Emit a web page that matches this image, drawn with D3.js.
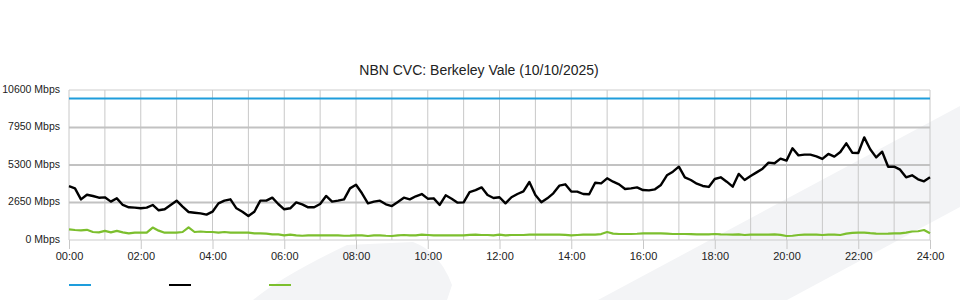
<!DOCTYPE html>
<html>
<head>
<meta charset="utf-8">
<script src="https://cdn.jsdelivr.net/npm/d3@7"></script>
<style>
  body { margin: 0; background: #fff; }
  text { font-family: "Liberation Sans", Arial, sans-serif; fill: #222; }
</style>
</head>
<body>
<div id="chart"></div>
<script>
// Chart data (one sample every 10 minutes from 00:00 to 24:00)
const title = "NBN CVC: Berkeley Vale (10/10/2025)";
const stepMinutes = 10;
const capacityMbps = 10000;

const trafficMbps = [
  3800, 3650, 2870, 3200, 3110, 2990, 3015, 2710, 2945, 2475, 2310, 2285, 2240, 2285, 2475, 2100,
  2170, 2475, 2780, 2355, 1980, 1930, 1885, 1790, 2000, 2590, 2780, 2875, 2240, 2000, 1700, 2000,
  2780, 2780, 2990, 2545, 2170, 2240, 2660, 2520, 2310, 2310, 2545, 3110, 2710, 2780, 2875, 3650,
  3900, 3300, 2590, 2710, 2780, 2520, 2400, 2690, 2990, 2870, 3090, 3250, 2920, 2945, 2475, 3160,
  2920, 2640, 2660, 3390, 3530, 3720, 3180, 2970, 3020, 2590, 3020, 3250, 3440, 4100, 3180, 2660,
  2945, 3300, 3840, 3935, 3420, 3420, 3250, 3230, 4050, 4005, 4360, 4120, 3935, 3600, 3650, 3720,
  3530, 3510, 3580, 3890, 4570, 4830, 5180, 4430, 4240, 3980, 3820, 3750, 4310, 4430, 4120, 3770,
  4670, 4240, 4520, 4780, 5040, 5470, 5420, 5750, 5610, 6480, 5980, 6030, 6030, 5910, 5730, 6080,
  5890, 6220, 6830, 6170, 6150, 7250, 6410, 5840, 6240, 5180, 5180, 4970, 4430, 4570, 4290, 4150,
  4430
];

const otherMbps = [
  754, 707, 680, 720, 565, 540, 640, 540, 640, 540, 471, 518, 518, 518, 880, 660,
  518, 518, 518, 565, 895, 565, 600, 565, 565, 518, 565, 518, 518, 518, 518, 471,
  471, 450, 400, 400, 330, 380, 330, 300, 330, 330, 330, 330, 330, 330, 300, 310,
  330, 330, 283, 330, 330, 300, 283, 330, 353, 330, 330, 380, 353, 330, 330, 330,
  330, 330, 330, 360, 377, 353, 353, 330, 377, 330, 353, 353, 353, 377, 377, 377,
  377, 377, 377, 360, 330, 353, 377, 377, 377, 420, 565, 450, 424, 424, 424, 440,
  471, 471, 471, 471, 450, 424, 424, 424, 410, 400, 400, 400, 424, 400, 390, 377,
  400, 353, 377, 377, 377, 377, 400, 360, 283, 300, 353, 377, 377, 377, 353, 377,
  377, 353, 450, 500, 520, 520, 480, 450, 440, 450, 471, 471, 520, 600, 620, 707,
  480
];

const yTicks = [0, 2650, 5300, 7950, 10600];
const xTickHours = [0, 2, 4, 6, 8, 10, 12, 14, 16, 18, 20, 22, 24];
const seriesColors = ["#1e9ddc", "#000000", "#7cbf2e"];

// Dimensions
const width = 960;
const height = 300;
const margin = { top: 90, right: 30, bottom: 60, left: 69 };

const svg = d3
  .select("#chart")
  .append("svg")
  .attr("width", width)
  .attr("height", height);

// Light background watermark shapes
svg.append("path")
  .attr("d", "M253,300 Q282,276 347,245 L413,242 Q440,252 452,285 L447,300 Z")
  .attr("fill", "#f3f4f6");
svg.append("path")
  .attr("d", "M598,300 L960,106 L960,207 L787,300 Z")
  .attr("fill", "#f3f4f6");

// Scales
const xScale = d3.scaleLinear()
  .domain([0, 24 * 60])
  .range([margin.left, width - margin.right]);

const yScale = d3.scaleLinear()
  .domain([0, 10600])
  .range([height - margin.bottom, margin.top]);

// Vertical grid lines, one per hour
const grid = svg.append("g").attr("class", "grid");
grid.selectAll("line.v")
  .data(d3.range(0, 25))
  .join("line")
  .attr("class", "v")
  .attr("x1", (h) => xScale(h * 60))
  .attr("x2", (h) => xScale(h * 60))
  .attr("y1", yScale(10600))
  .attr("y2", yScale(0))
  .attr("stroke", "#c8c8c8")
  .attr("stroke-width", 1);

// Horizontal grid lines
grid.selectAll("line.h")
  .data(yTicks)
  .join("line")
  .attr("class", "h")
  .attr("x1", xScale(0))
  .attr("x2", xScale(24 * 60))
  .attr("y1", (d) => yScale(d))
  .attr("y2", (d) => yScale(d))
  .attr("stroke", (d) => (d === 0 || d === 10600 ? "#cccccc" : "#c2c2c2"))
  .attr("stroke-width", (d) => (d === 0 || d === 10600 ? 1 : 2));

// X axis
const xAxis = d3.axisBottom(xScale)
  .tickValues(xTickHours.map((h) => h * 60))
  .tickSize(9)
  .tickPadding(3)
  .tickFormat((m) => String(m / 60).padStart(2, "0") + ":00");

const gx = svg.append("g")
  .attr("transform", `translate(0, ${yScale(0)})`)
  .call(xAxis);
gx.select(".domain").remove();
gx.selectAll(".tick line").attr("stroke", "#c8c8c8");
gx.selectAll(".tick text").style("font-size", "11px").attr("fill", "#222");

// Y axis
const yAxis = d3.axisLeft(yScale)
  .tickValues(yTicks)
  .tickSize(0)
  .tickPadding(9)
  .tickFormat((d) => d + " Mbps");

const gy = svg.append("g")
  .attr("transform", `translate(${margin.left}, -1)`)
  .call(yAxis);
gy.select(".domain").remove();
gy.selectAll(".tick text").style("font-size", "10.5px").attr("fill", "#222");

// Lines
const line = d3.line()
  .x((d, i) => xScale(i * stepMinutes))
  .y((d) => yScale(d));

const capacity = trafficMbps.map(() => capacityMbps);

svg.append("path")
  .datum(capacity)
  .attr("fill", "none")
  .attr("stroke", seriesColors[0])
  .attr("stroke-width", 2)
  .attr("d", line);

svg.append("path")
  .datum(otherMbps)
  .attr("fill", "none")
  .attr("stroke", seriesColors[2])
  .attr("stroke-width", 2.2)
  .attr("stroke-linejoin", "round")
  .attr("d", line);

svg.append("path")
  .datum(trafficMbps)
  .attr("fill", "none")
  .attr("stroke", seriesColors[1])
  .attr("stroke-width", 2.4)
  .attr("stroke-linejoin", "round")
  .attr("d", line);

// Title
svg.append("text")
  .attr("x", 479)
  .attr("y", 75)
  .attr("text-anchor", "middle")
  .style("font-size", "14px")
  .text(title);

// Legend (coloured keys only)
svg.append("g")
  .selectAll("line")
  .data(seriesColors)
  .join("line")
  .attr("x1", (d, i) => 69 + i * 100)
  .attr("x2", (d, i) => 91 + i * 100)
  .attr("y1", 285)
  .attr("y2", 285)
  .attr("stroke", (d) => d)
  .attr("stroke-width", 2);
</script>
</body>
</html>
